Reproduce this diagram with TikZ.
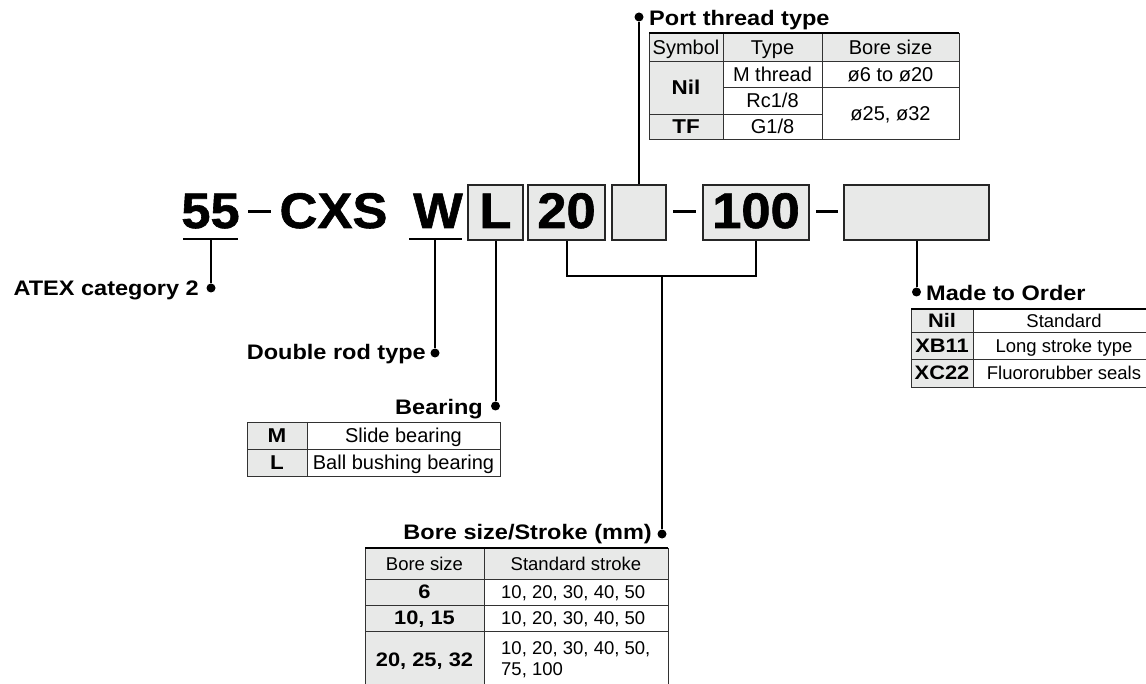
\documentclass[tikz,border=0pt]{standalone}
\usepackage{fontspec}
\setmainfont{Liberation Sans}[BoldFeatures={FakeStretch=1.12}]
\newfontfamily\codefont{Liberation Sans}[FakeStretch=1.05,FakeBold=1.2]
\definecolor{tgray}{RGB}{232,233,232}
\definecolor{lgray}{RGB}{50,50,50}
\tikzset{
  codebox/.style={draw=black!85, line width=1.6pt, fill=tgray, minimum height=55pt, inner sep=0pt,
    text height=36pt, text depth=5pt, font=\codefont\bfseries\fontsize{50}{50}\selectfont},
  codetxt/.style={anchor=base, inner sep=0pt, font=\codefont\bfseries\fontsize{50}{50}\selectfont},
  dashline/.style={line width=3pt, black},
  uline/.style={line width=2pt, black},
  conn/.style={line width=2pt, black},
  dot/.style={circle, fill=black, inner sep=0pt, minimum size=9pt},
  headR/.style={anchor=base east, inner sep=0pt, font=\bfseries\fontsize{21}{25}\selectfont},
  headL/.style={anchor=base west, inner sep=0pt, font=\bfseries\fontsize{21}{25}\selectfont},
  tline/.style={draw=lgray, line width=0.9pt},
  ttop/.style={draw=black, line width=1.6pt},
  cA/.style={inner sep=0pt, text height=14.3pt, text depth=0pt, font=\fontsize{20}{24}\selectfont},
  cAb/.style={inner sep=0pt, text height=14.3pt, text depth=0pt, font=\bfseries\fontsize{20}{24}\selectfont},
  cB/.style={inner sep=0pt, text height=13.2pt, text depth=0pt, font=\fontsize{18.5}{22}\selectfont},
  cBb/.style={inner sep=0pt, text height=13.6pt, text depth=0pt, font=\bfseries\fontsize{19.5}{22}\selectfont},
}
\begin{document}
\begin{tikzpicture}[x=1pt,y=-1pt]
\useasboundingbox (0,0) rectangle (1146,684);

% ---------- model code ----------
\node[codetxt] (n55) at (210.5,228) {55};
\draw[uline] (183,239) -- (238,239);
\coordinate (u55) at (211,239);
\draw[dashline] (248,212) -- (271,212);
\node[codetxt] (ncxs) at (333.5,228) {CXS};
\node[codetxt] (nw) at (438,228) {W};
\draw[uline] (409,239) -- (462,239);
\coordinate (uW) at (435,239);
\node[codebox, minimum width=55pt] (bL) at (495.5,212.5) {L};
\node[codebox, minimum width=77pt] (b20) at (566.5,212.5) {20};
\node[codebox, minimum width=54pt] (bport) at (639,212.5) {};
\draw[dashline] (673,212) -- (696,212);
\node[codebox, minimum width=106pt] (b100) at (756,212.5) {100};
\draw[dashline] (816,212) -- (838,212);
\node[codebox, minimum width=145pt] (bmto) at (916.5,212.5) {};

% ---------- dots and connectors ----------
\node[dot] (dATEX) at (211,288) {};
\node[dot] (dW) at (435,353) {};
\node[dot] (dBear) at (495.5,406) {};
\node[dot] (dPort) at (639,17) {};
\node[dot] (dBore) at (662,534) {};
\node[dot] (dMTO) at (916.5,292) {};
\coordinate (jB) at (662,276);

\draw[conn] (u55) -- (dATEX);
\draw[conn] (uW) -- (dW);
\draw[conn] (bL.south) -- (dBear);
\draw[conn] (bport.north) -- (dPort);
\draw[conn] (b20.south) |- (jB) -| (b100.south);
\draw[conn] (jB) -- (dBore);
\draw[conn] (bmto.south) -- (dMTO);

% ---------- headings ----------
\node[headR] (hATEX) at (199,296) {ATEX category 2};
\node[headR] (hW) at (426,360) {Double rod type};
\node[headR] (hBear) at (483,414) {Bearing};
\node[headL] (hPort) at (649,26) {Port thread type};
\node[headR] (hBore) at (652,539) {Bore size/Stroke (mm)};
\node[headL] (hMTO) at (926,301) {Made to Order};

% ---------- port thread table ----------
\fill[tgray] (649,33) rectangle (959,61);
\fill[tgray] (649,61) rectangle (723,139);
\draw[tline] (649,33) rectangle (959,139);
\draw[tline] (649,61) -- (959,61);
\draw[tline] (723,87) -- (959,87);
\draw[tline] (649,114) -- (723,114);
\draw[tline] (723,114) -- (822,114);
\draw[tline] (723,33) -- (723,139);
\draw[tline] (822,33) -- (822,139);
\draw[ttop] (649,33) -- (959,33);
\node[cA] (p11) at (686,47) {Symbol};
\node[cA] (p12) at (772.5,47) {Type};
\node[cA] (p13) at (890.5,47) {Bore size};
\node[cAb] (p21) at (686,87.5) {Nil};
\node[cA] (p22) at (772.5,74) {M thread};
\node[cA] (p23) at (890.5,74) {ø6 to ø20};
\node[cA] (p32) at (772.5,100.5) {Rc1/8};
\node[cA] (p33) at (890.5,113) {ø25, ø32};
\node[cAb] (p41) at (686,126.5) {TF};
\node[cA] (p42) at (772.5,126.5) {G1/8};

% ---------- bearing table ----------
\fill[tgray] (247,422) rectangle (307,476);
\draw[tline] (247,422) rectangle (500,476);
\draw[tline] (247,449) -- (500,449);
\draw[tline] (307,422) -- (307,476);
\node[cAb] (r11) at (277,435.5) {M};
\node[cA] (r12) at (403.5,435.5) {Slide bearing};
\node[cAb] (r21) at (277,462.5) {L};
\node[cA] (r22) at (403.5,462.5) {Ball bushing bearing};

% ---------- bore size / stroke table ----------
\fill[tgray] (365,548) rectangle (668,579);
\fill[tgray] (365,579) rectangle (484,690);
\draw[tline] (365,548) -- (365,690);
\draw[tline] (484,548) -- (484,690);
\draw[tline] (668,548) -- (668,690);
\draw[tline] (365,579) -- (668,579);
\draw[tline] (365,605) -- (668,605);
\draw[tline] (365,631) -- (668,631);
\draw[ttop] (365,548) -- (668,548);
\node[cB] (s11) at (424.5,563.5) {Bore size};
\node[cB] (s12) at (576,563.5) {Standard stroke};
\node[cBb] (s21) at (424.5,592) {6};
\node[cB, anchor=west] (s22) at (501,592) {10, 20, 30, 40, 50};
\node[cBb] (s31) at (424.5,618) {10, 15};
\node[cB, anchor=west] (s32) at (501,618) {10, 20, 30, 40, 50};
\node[cBb] (s41) at (424.5,659.5) {20, 25, 32};
\node[cB, anchor=west] (s42) at (501,647.4) {10, 20, 30, 40, 50,};
\node[cB, anchor=west] (s43) at (501,668.4) {75, 100};

% ---------- made to order table ----------
\fill[tgray] (911,309) rectangle (973,387.5);
\draw[tline] (911,309) -- (911,387.5);
\draw[tline] (973,309) -- (973,387.5);
\draw[tline] (911,332) -- (1150,332);
\draw[tline] (911,359) -- (1150,359);
\draw[tline] (911,387.5) -- (1150,387.5);
\draw[ttop] (911,309) -- (1150,309);
\node[cBb] (m11) at (942,320.5) {Nil};
\node[cB] (m12) at (1064,320.5) {Standard};
\node[cBb] (m21) at (942,345.5) {XB11};
\node[cB] (m22) at (1064,345.5) {Long stroke type};
\node[cBb] (m31) at (942,373) {XC22};
\node[cB] (m32) at (1064,373) {Fluororubber seals};
\end{tikzpicture}
\end{document}
